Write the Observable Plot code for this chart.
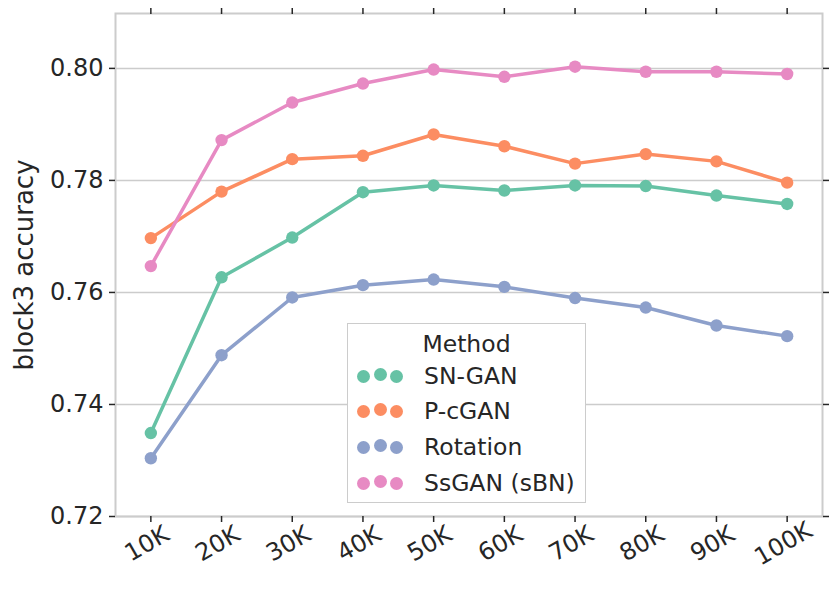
<!DOCTYPE html>
<html>
<head>
<meta charset="utf-8">
<script src="https://cdn.jsdelivr.net/npm/d3@7"></script>
<script src="https://cdn.jsdelivr.net/npm/@observablehq/plot@0.6"></script>
<style>
  html, body { margin: 0; padding: 0; background: white; }
  #wrap { position: relative; width: 831px; height: 593px; font-family: "DejaVu Sans", sans-serif; color: #262626; }
  #legend { position: absolute; left: 347px; top: 323px; width: 239px; height: 180px; box-sizing: border-box;
            border: 1.5px solid #cccccc; background: white; font-size: 23.5px; }
  #legend .title { position: absolute; left: 0; width: 100%; top: 20px; transform: translateY(-50%); text-align: center; }
  #legend .row { position: absolute; left: 0; width: 100%; height: 30px; transform: translateY(-50%); }
  #legend .row span.lab { position: absolute; left: 76px; top: 50%; transform: translateY(-50%); white-space: nowrap; }
  #legend .row i { position: absolute; width: 13px; height: 13px; border-radius: 50%; top: 9px; }
</style>
</head>
<body>
<div id="wrap"></div>
<script>
const steps = [10000, 20000, 30000, 40000, 50000, 60000, 70000, 80000, 90000, 100000];
const stepLabels = ["10K", "20K", "30K", "40K", "50K", "60K", "70K", "80K", "90K", "100K"];
const methods = ["SN-GAN", "P-cGAN", "Rotation", "SsGAN (sBN)"];
const colors = ["#66c2a5", "#fc8d62", "#8da0cb", "#e78ac3"];
const snGan = [0.7349, 0.7627, 0.7698, 0.7779, 0.7791, 0.7782, 0.7791, 0.7790, 0.7773, 0.7758];
const pcGan = [0.7697, 0.7780, 0.7838, 0.7844, 0.7882, 0.7861, 0.7830, 0.7847, 0.7834, 0.7796];
const rotation = [0.7304, 0.7488, 0.7591, 0.7613, 0.7623, 0.7610, 0.7590, 0.7573, 0.7541, 0.7522];
const ssGan = [0.7647, 0.7872, 0.7939, 0.7973, 0.7998, 0.7985, 0.8003, 0.7994, 0.7994, 0.7990];
const yTicks = [0.72, 0.74, 0.76, 0.78, 0.80];
const yLabel = "block3 accuracy";
const legendTitle = "Method";

const seriesValues = [snGan, pcGan, rotation, ssGan];
const data = [];
methods.forEach((m, i) => steps.forEach((s, j) => data.push({method: m, step: s, acc: seriesValues[i][j]})));

const labelOf = new Map(steps.map((s, i) => [s, stepLabels[i]]));

const chart = Plot.plot({
  width: 831,
  height: 593,
  marginLeft: 115,
  marginRight: 9,
  marginTop: 13,
  marginBottom: 77,
  style: {fontFamily: "DejaVu Sans", fontSize: "24px", color: "#262626", background: "white"},
  x: {domain: [5000, 105000]},
  y: {domain: [0.72, 0.8098]},
  color: {domain: methods, range: colors},
  marks: [
    Plot.gridY(yTicks, {stroke: "#cccccc", strokeOpacity: 1, strokeWidth: 1.5}),
    Plot.frame({stroke: "#cccccc", strokeWidth: 2}),
    Plot.axisY(yTicks, {anchor: "left", tickSize: 6, tickPadding: 6, tickFormat: d => d.toFixed(2), label: null, strokeWidth: 1.5, fontSize: 24}),
    Plot.axisY(yTicks, {anchor: "right", tickSize: 6, tickFormat: () => "", label: null, strokeWidth: 1.5}),
    Plot.axisX(steps, {anchor: "bottom", tickSize: 6, tickFormat: () => "", label: null, strokeWidth: 1.5}),
    Plot.axisX(steps, {anchor: "top", tickSize: 6, tickFormat: () => "", label: null, strokeWidth: 1.5}),
    Plot.text(steps, {x: d => d, text: d => labelOf.get(d), frameAnchor: "bottom", dy: 34, rotate: -30, fontSize: 24, fill: "#262626", textAnchor: "middle"}),
    Plot.text([yLabel], {frameAnchor: "left", dx: -91, rotate: -90, fontSize: 26, fill: "#262626", textAnchor: "middle"}),
    Plot.lineY(data, {x: "step", y: "acc", stroke: "method", z: "method", strokeWidth: 3.5}),
    Plot.dot(data, {x: "step", y: "acc", fill: "method", r: 6.2})
  ]
});

const wrap = document.getElementById("wrap");
wrap.appendChild(chart);

// Legend (HTML overlay inside the plot area)
const legend = document.createElement("div");
legend.id = "legend";
const t = document.createElement("div");
t.className = "title";
t.textContent = legendTitle;
legend.appendChild(t);
const rowTops = [52, 87, 123, 159];
methods.forEach((m, i) => {
  const row = document.createElement("div");
  row.className = "row";
  row.style.top = rowTops[i] + "px";
  [15.5, 32, 48.5].forEach((cx, k) => {
    const dot = document.createElement("i");
    dot.style.left = (cx - 6.5) + "px";
    dot.style.background = colors[i];
    if (k === 1) dot.style.top = "7px";
    row.appendChild(dot);
  });
  const lab = document.createElement("span");
  lab.className = "lab";
  lab.textContent = m;
  row.appendChild(lab);
  legend.appendChild(row);
});
wrap.appendChild(legend);
</script>
</body>
</html>
